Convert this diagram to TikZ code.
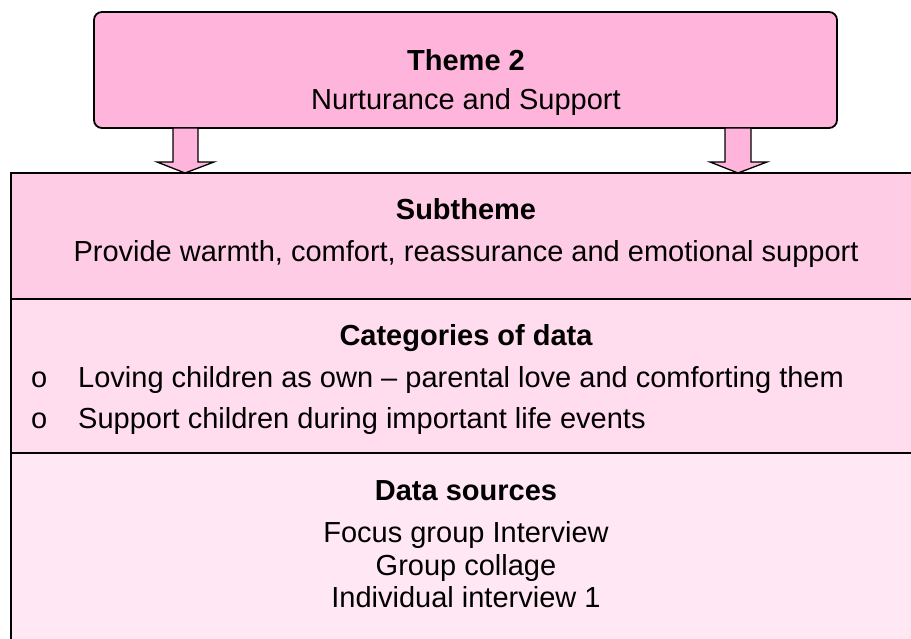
\documentclass[tikz,border=0pt]{standalone}
\usepackage{fontspec}
\setmainfont{Liberation Sans}
\definecolor{themepink}{HTML}{FFB5DB}
\definecolor{subpink}{HTML}{FFCCE6}
\definecolor{catpink}{HTML}{FFDCEE}
\definecolor{srcpink}{HTML}{FFE8F4}
\begin{document}
\begin{tikzpicture}[x=1pt,y=-1pt,
  txt/.style={inner sep=0pt, anchor=base, font=\fontsize{29}{34}\selectfont},
  boldtxt/.style={inner sep=0pt, anchor=base, font=\fontsize{29}{34}\selectfont\bfseries},
  bullettxt/.style={inner sep=0pt, anchor=base west, font=\fontsize{29}{34}\selectfont},
  band/.style={draw=black, line width=1.8pt},
  blockarrow/.style={draw=black, line width=1.3pt, fill=themepink, line join=miter}]
\useasboundingbox (0,0) rectangle (911,639);
% main box bands
\draw[band, fill=subpink] (11,173) rectangle (940,299);
\draw[band, fill=catpink] (11,299) rectangle (940,453);
\draw[band, fill=srcpink] (11,453) rectangle (940,660);
% theme box
\node[draw=black, line width=1.8pt, fill=themepink, rounded corners=8pt,
      minimum width=743pt, minimum height=116pt, inner sep=0pt] (theme) at (465.5,70) {};
% block arrows
\draw[blockarrow] (173,128) -- (198,128) -- (198,162) -- (214,162) -- (185,173)
   -- (157,162) -- (173,162) -- cycle;
\draw[blockarrow] (725,128) -- (751,128) -- (751,162) -- (767,162) -- (738,173)
   -- (710,162) -- (725,162) -- cycle;
% texts
\node[boldtxt] (t1) at (466,71) {Theme 2};
\node[txt] (t2) at (466,110) {Nurturance and Support};
\node[boldtxt] (s1) at (466,220) {Subtheme};
\node[txt] (s2) at (466,262) {Provide warmth, comfort, reassurance and emotional support};
\node[boldtxt] (c1) at (466,345) {Categories of data};
\node[bullettxt] (b1) at (31,387) {o};
\node[bullettxt] (c2) at (78,387) {Loving children as own -- parental love and comforting them};
\node[bullettxt] (b2) at (31,428) {o};
\node[bullettxt] (c3) at (78,428) {Support children during important life events};
\node[boldtxt] (d1) at (466,500) {Data sources};
\node[txt] (d2) at (466,542) {Focus group Interview};
\node[txt] (d3) at (466,575) {Group collage};
\node[txt] (d4) at (466,607) {Individual interview 1};
\end{tikzpicture}
\end{document}
